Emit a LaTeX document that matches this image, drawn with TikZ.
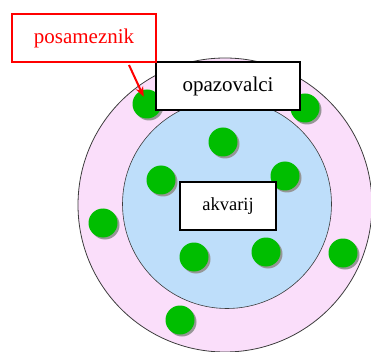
\documentclass[tikz,border=0pt]{standalone}
\usepackage{fontspec}
\setmainfont{Liberation Serif}
\usetikzlibrary{arrows.meta}
\definecolor{pinkfill}{RGB}{250,222,250}
\definecolor{bluefill}{RGB}{190,222,250}
\definecolor{dotgreen}{RGB}{0,190,0}
\definecolor{shadowgrey}{RGB}{150,150,150}
\definecolor{ringline}{RGB}{60,60,60}
\tikzset{
  dotshadow/.style={circle, fill=shadowgrey, minimum size=29pt, inner sep=0pt},
  dot/.style={circle, fill=dotgreen, minimum size=29pt, inner sep=0pt},
  labelbox/.style={draw=black, line width=1.6pt, fill=white, inner sep=0pt},
  redbox/.style={draw=red, line width=1.6pt, fill=white, inner sep=0pt, text=red},
}
\begin{document}
\begin{tikzpicture}[x=1pt,y=-1pt]
\useasboundingbox (0,0) rectangle (371,352);
\clip (0,0) rectangle (371,352);
% rings
\node[circle, draw=ringline, line width=0.8pt, fill=pinkfill, minimum size=294pt, inner sep=0pt] (outer) at (225,205) {};
\node[circle, draw=ringline, line width=0.6pt, fill=bluefill, minimum size=209pt, inner sep=0pt] (inner) at (227,204) {};
% dots with shadows
\foreach \n/\x/\y in {d1/147/104, d2/305/108, d3/223/142, d4/161/180, d5/285/176, d6/103/223, d7/194/257, d8/266/252, d9/343/253, d10/180/320} {
  \node[dotshadow] (\n s) at (\x+2,\y+2) {};
  \node[dot] (\n) at (\x,\y) {};
}
% boxes
\node[labelbox, minimum width=144pt, minimum height=48pt, font=\fontsize{21}{24}\selectfont] (obs) at (228,86) {opazovalci};
\node[labelbox, minimum width=96pt, minimum height=48pt, font=\fontsize{18.5}{22}\selectfont] (aq) at (228,206) {akvarij};
\node[redbox, minimum width=144pt, minimum height=48pt, font=\fontsize{21}{24}\selectfont] (ind) at (84,38) {posameznik};
\coordinate (arrstart) at (129,65);
\draw[red, line width=2pt, shorten >=8pt, -{Stealth[length=10pt,width=8pt]}] (arrstart) -- (d1.center);
\end{tikzpicture}
\end{document}
